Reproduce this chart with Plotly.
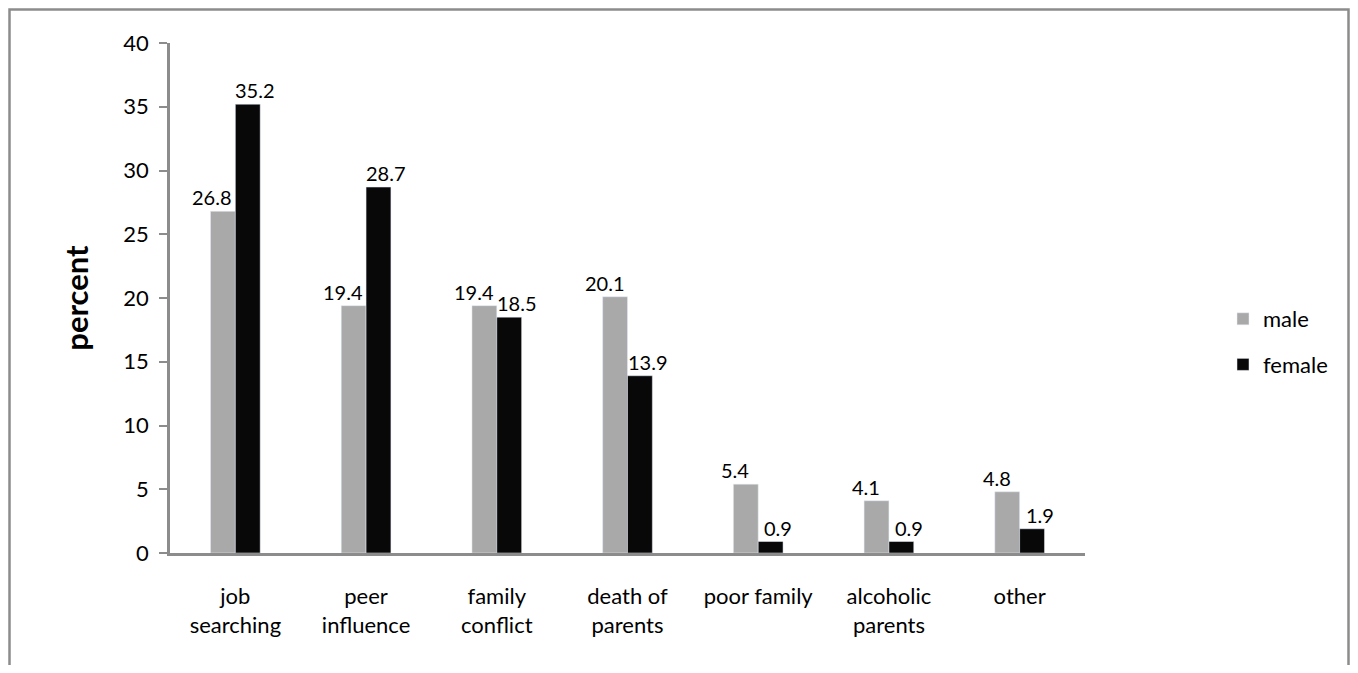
import plotly.graph_objects as go

categories = ["job<br>searching", "peer<br>influence", "family<br>conflict", "death of<br>parents",
              "poor family", "alcoholic<br>parents", "other"]
male = [26.8, 19.4, 19.4, 20.1, 5.4, 4.1, 4.8]
female = [35.2, 28.7, 18.5, 13.9, 0.9, 0.9, 1.9]

FONT = "Lato"
# page has an 8px body margin, so the figure is drawn 8px in from the window edge
W, H = 1342, 657
L, R, T, B = 162, 1077, 35, 545

fig = go.Figure()
fig.add_trace(go.Bar(name="male", x=categories, y=male, marker_color="#A9A9A9",
                     cliponaxis=False, legendgroup="m"))
fig.add_trace(go.Bar(name="female", x=categories, y=female, marker_color="#080808",
                     cliponaxis=False, legendgroup="f"))

# data labels, offset like the original (male to the left, female to the right)
for cat, m, f in zip(categories, male, female):
    fig.add_annotation(x=cat, y=m, text=f"{m:.1f}", showarrow=False, xshift=-23,
                       yanchor="bottom", yshift=0, font=dict(size=20, color="black", family=FONT))
    fig.add_annotation(x=cat, y=f, text=f"{f:.1f}", showarrow=False, xshift=20,
                       yanchor="bottom", yshift=0, font=dict(size=20, color="black", family=FONT))

pw = R - L
ph = B - T
fig.add_shape(type="rect", xref="paper", yref="paper",
              x0=(1.5 - L) / pw, x1=(1340.5 - L) / pw,
              y0=(B - 700) / ph, y1=(B - 1.5) / ph,
              line=dict(color="#8C8C8C", width=2.5), fillcolor="rgba(0,0,0,0)", layer="below")

fig.update_layout(
    width=W, height=H,
    margin=dict(l=L, r=W - R, t=T, b=H - B),
    plot_bgcolor="white", paper_bgcolor="white",
    barmode="group", bargap=0.62, bargroupgap=0,
    font=dict(family=FONT, size=22, color="black"),
    legend=dict(x=(1215 - L) / pw, xanchor="left", y=(B - 334) / ph, yanchor="middle",
                font=dict(size=22), tracegroupgap=14, itemwidth=30,
                bgcolor="rgba(0,0,0,0)"),
    xaxis=dict(showline=True, linecolor="#8C8C8C", linewidth=2.5, ticks="",
               tickfont=dict(size=22), ticklabelstandoff=22, showgrid=False),
    yaxis=dict(range=[0, 40], dtick=5, showline=True, linecolor="#8C8C8C", linewidth=2.5,
               ticks="outside", ticklen=8, tickcolor="#8C8C8C", tickwidth=2,
               tickfont=dict(size=22), ticklabelstandoff=6, showgrid=False, zeroline=False,
               title=dict(text="<b>percent</b>", font=dict(size=31), standoff=26)),
)

fig.write_html("out.html")
